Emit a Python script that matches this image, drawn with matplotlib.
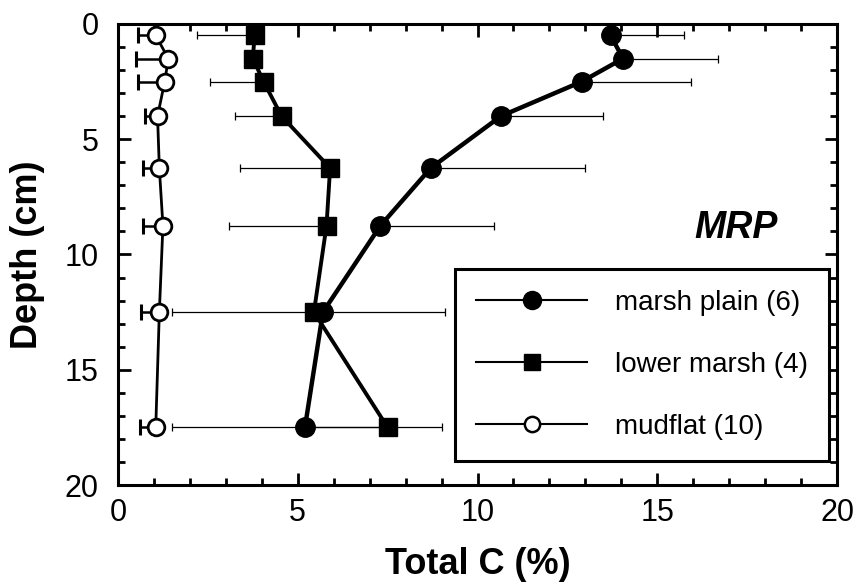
import matplotlib
matplotlib.use("Agg")
import matplotlib.pyplot as plt
from matplotlib.lines import Line2D
from matplotlib.ticker import MultipleLocator

plt.rcParams['font.family'] = ['Liberation Sans', 'DejaVu Sans']

# depth midpoints (cm)
depth = [0.5, 1.5, 2.5, 4.0, 6.25, 8.75, 12.5, 17.5]

# marsh plain (6) - error bars drawn to the right
marsh_c = [13.7, 14.05, 12.9, 10.65, 8.7, 7.3, 5.7, 5.2]
marsh_err = [2.05, 2.65, 3.05, 2.85, 4.3, 3.15, 3.4, 3.8]

# lower marsh (4) - error bars drawn to the left
lower_c = [3.8, 3.75, 4.05, 4.55, 5.9, 5.8, 5.45, 7.5]
lower_err = [1.6, 0.0, 1.5, 1.3, 2.5, 2.7, 3.95, 6.0]

# mudflat (10) - error bars drawn to the left
mud_c = [1.05, 1.4, 1.3, 1.1, 1.15, 1.25, 1.15, 1.05]
mud_err = [0.5, 0.9, 0.75, 0.35, 0.45, 0.55, 0.5, 0.45]

labels = ["marsh plain (6)", "lower marsh (4)", "mudflat (10)"]
zeros = [0] * len(depth)

fig = plt.figure(figsize=(8.55, 5.84), dpi=100)
ax = fig.add_axes([0.138, 0.1695, 0.841, 0.7895])

# error bars first so markers sit on top
ax.errorbar(marsh_c, depth, xerr=[zeros, marsh_err], fmt='none', ecolor='black',
            elinewidth=0.9, capsize=3, capthick=0.9, zorder=1)
ax.errorbar(lower_c, depth, xerr=[lower_err, zeros], fmt='none', ecolor='black',
            elinewidth=0.9, capsize=3, capthick=0.9, zorder=1)
ax.errorbar(mud_c, depth, xerr=[mud_err, zeros], fmt='none', ecolor='black',
            elinewidth=1.8, capsize=6, capthick=2.2, zorder=1)

ax.plot(marsh_c, depth, '-o', color='black', lw=3.2, ms=14, zorder=4)
ax.plot(lower_c, depth, '-s', color='black', lw=2.8, ms=13, zorder=3)
ax.plot(mud_c, depth, '-o', color='black', lw=2.0, ms=12, mfc='white',
        mec='black', mew=2.0, zorder=3)

ax.set_xlim(0, 20)
ax.set_ylim(20, 0)
ax.xaxis.set_major_locator(MultipleLocator(5))
ax.xaxis.set_minor_locator(MultipleLocator(1))
ax.yaxis.set_major_locator(MultipleLocator(5))
ax.yaxis.set_minor_locator(MultipleLocator(1))
ax.tick_params(which='both', direction='in', top=True, right=True, width=2)
ax.tick_params(which='major', length=9)
ax.tick_params(which='minor', length=5)
ax.tick_params(axis='x', which='major', labelsize=22, pad=9)
ax.tick_params(axis='y', which='major', labelsize=22, pad=14)
for s in ax.spines.values():
    s.set_linewidth(2.2)

ax.set_xlabel("Total C (%)", fontsize=26, fontweight='bold', labelpad=14)
ax.set_ylabel("Depth (cm)", fontsize=26, fontweight='bold', labelpad=14)

ax.text(17.2, 8.85, "MRP", fontsize=27, fontweight='bold', fontstyle='italic',
        ha='center', va='center')

handles = [
    Line2D([], [], color='black', lw=1.5, marker='o', ms=13),
    Line2D([], [], color='black', lw=1.5, marker='s', ms=12),
    Line2D([], [], color='black', lw=1.5, marker='o', ms=11, mfc='white', mew=1.8),
]
leg = ax.legend(handles, labels, loc='upper left', bbox_to_anchor=(0.469, 0.4685),
                borderaxespad=0, fontsize=20, handlelength=4.0, handletextpad=1.0,
                labelspacing=1.3, borderpad=0.75, fancybox=False, framealpha=1,
                edgecolor='black')
leg.get_frame().set_linewidth(2.2)

fig.savefig("out.png", dpi=100)
